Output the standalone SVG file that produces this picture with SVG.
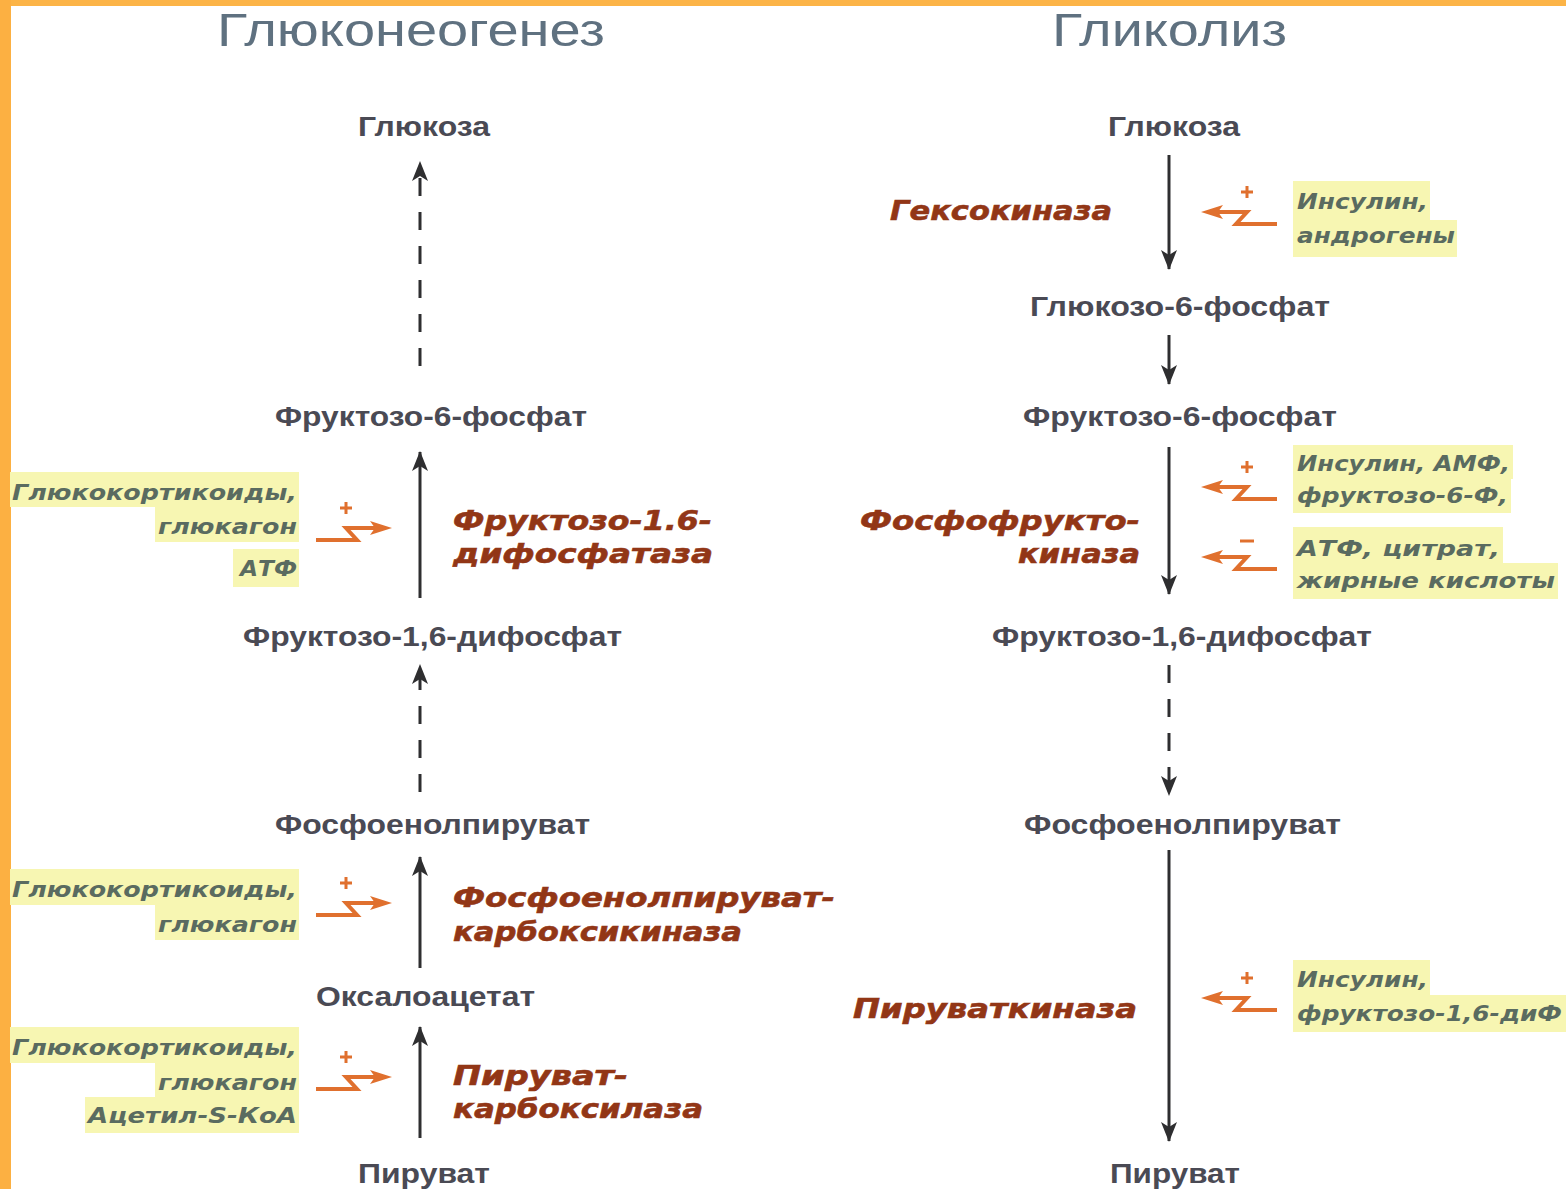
<svg xmlns="http://www.w3.org/2000/svg" width="1566" height="1189" viewBox="0 0 1566 1189">
<style>
.title{font-family:"Liberation Sans",Arial,sans-serif;font-size:46px;fill:#5f7180;}
.node{font-family:"Liberation Sans",Arial,sans-serif;font-weight:bold;font-size:28px;fill:#4a4a54;}
.enz{font-family:"DejaVu Sans",sans-serif;font-weight:bold;font-style:italic;font-size:27px;fill:#923616;stroke:#923616;stroke-width:0.6;}
.reg{font-family:"DejaVu Sans",sans-serif;font-weight:bold;font-style:italic;font-size:22px;fill:#5a6b60;}
.hl{fill:#f7f6b2;}
.main{stroke:#2e2e30;stroke-width:3;fill:none;}
.dash{stroke-dasharray:18 16;}
.rs{stroke:#e0702e;stroke-width:4;fill:none;stroke-linejoin:miter;}
.rp{stroke:#e0702e;stroke-width:3;}
</style>
<defs>
<marker id="ah" viewBox="0 0 20 16" refX="19" refY="8" markerWidth="20" markerHeight="16" markerUnits="userSpaceOnUse" orient="auto">
<path d="M0,0 L20,8 L0,16 L5,8 z" fill="#2e2e30"/>
</marker>
<g id="regPlus">
<path class="rs" d="M-74,12 H-33 L-44,0 H-14"/>
<path d="M-20,-7 L2,0 L-20,7 L-15,0 z" fill="#e0702e"/>
<path class="rp" d="M-50,-20 H-38 M-44,-26 V-14"/>
</g>
<g id="regMinus">
<path class="rs" d="M-74,12 H-33 L-44,0 H-14"/>
<path d="M-20,-7 L2,0 L-20,7 L-15,0 z" fill="#e0702e"/>
<path class="rp" d="M-51,-16 H-37"/>
</g>
</defs>
<rect x="0" y="0" width="1566" height="1189" fill="#ffffff"/>
<rect x="0" y="0" width="1566" height="6" fill="#fcb447"/>
<rect x="0" y="0" width="11" height="1189" fill="#fcb042"/>

<g id="titles">
<text class="title" x="217" y="46" textLength="388" lengthAdjust="spacingAndGlyphs">Глюконеогенез</text>
<text class="title" x="1052" y="46" textLength="235" lengthAdjust="spacingAndGlyphs">Гликолиз</text>
</g>

<g id="connectors">
<line class="main dash" x1="420" y1="366" x2="420" y2="162" marker-end="url(#ah)"/>
<line class="main" x1="420" y1="598" x2="420" y2="452" marker-end="url(#ah)"/>
<line class="main dash" x1="420" y1="792" x2="420" y2="665" marker-end="url(#ah)"/>
<line class="main" x1="420" y1="968" x2="420" y2="857" marker-end="url(#ah)"/>
<line class="main" x1="420" y1="1138" x2="420" y2="1027" marker-end="url(#ah)"/>
<line class="main" x1="1169" y1="155" x2="1169" y2="269" marker-end="url(#ah)"/>
<line class="main" x1="1169" y1="335" x2="1169" y2="384" marker-end="url(#ah)"/>
<line class="main" x1="1169" y1="447" x2="1169" y2="594" marker-end="url(#ah)"/>
<line class="main dash" x1="1169" y1="665" x2="1169" y2="795" marker-end="url(#ah)"/>
<line class="main" x1="1169" y1="850" x2="1169" y2="1141" marker-end="url(#ah)"/>
</g>

<g id="node-gng-glucose"><text class="node" x="358" y="136" textLength="132" lengthAdjust="spacingAndGlyphs">Глюкоза</text></g>
<g id="node-gng-f6p"><text class="node" x="275" y="426" textLength="312" lengthAdjust="spacingAndGlyphs">Фруктозо-6-фосфат</text></g>
<g id="node-gng-f16bp"><text class="node" x="243" y="646" textLength="379" lengthAdjust="spacingAndGlyphs">Фруктозо-1,6-дифосфат</text></g>
<g id="node-gng-pep"><text class="node" x="275" y="834" textLength="315" lengthAdjust="spacingAndGlyphs">Фосфоенолпируват</text></g>
<g id="node-gng-oaa"><text class="node" x="316" y="1006" textLength="219" lengthAdjust="spacingAndGlyphs">Оксалоацетат</text></g>
<g id="node-gng-pyr"><text class="node" x="358" y="1183" textLength="132" lengthAdjust="spacingAndGlyphs">Пируват</text></g>

<g id="node-gly-glucose"><text class="node" x="1108" y="136" textLength="132" lengthAdjust="spacingAndGlyphs">Глюкоза</text></g>
<g id="node-gly-g6p"><text class="node" x="1030" y="316" textLength="300" lengthAdjust="spacingAndGlyphs">Глюкозо-6-фосфат</text></g>
<g id="node-gly-f6p"><text class="node" x="1023" y="426" textLength="314" lengthAdjust="spacingAndGlyphs">Фруктозо-6-фосфат</text></g>
<g id="node-gly-f16bp"><text class="node" x="992" y="646" textLength="380" lengthAdjust="spacingAndGlyphs">Фруктозо-1,6-дифосфат</text></g>
<g id="node-gly-pep"><text class="node" x="1024" y="834" textLength="317" lengthAdjust="spacingAndGlyphs">Фосфоенолпируват</text></g>
<g id="node-gly-pyr"><text class="node" x="1110" y="1183" textLength="130" lengthAdjust="spacingAndGlyphs">Пируват</text></g>

<g id="enz-fbpase">
<text class="enz" x="453" y="530" textLength="259" lengthAdjust="spacingAndGlyphs">Фруктозо-1.6-</text>
<text class="enz" x="453" y="563" textLength="260" lengthAdjust="spacingAndGlyphs">дифосфатаза</text>
</g>
<g id="enz-pepck">
<text class="enz" x="453" y="907" textLength="382" lengthAdjust="spacingAndGlyphs">Фосфоенолпируват-</text>
<text class="enz" x="453" y="941" textLength="289" lengthAdjust="spacingAndGlyphs">карбоксикиназа</text>
</g>
<g id="enz-pc">
<text class="enz" x="453" y="1085" textLength="175" lengthAdjust="spacingAndGlyphs">Пируват-</text>
<text class="enz" x="453" y="1118" textLength="250" lengthAdjust="spacingAndGlyphs">карбоксилаза</text>
</g>
<g id="enz-hk">
<text class="enz" x="890" y="220" textLength="222" lengthAdjust="spacingAndGlyphs">Гексокиназа</text>
</g>
<g id="enz-pfk">
<text class="enz" x="860" y="530" textLength="280" lengthAdjust="spacingAndGlyphs">Фосфофрукто-</text>
<text class="enz" x="1018" y="563" textLength="122" lengthAdjust="spacingAndGlyphs">киназа</text>
</g>
<g id="enz-pk">
<text class="enz" x="853" y="1018" textLength="284" lengthAdjust="spacingAndGlyphs">Пируваткиназа</text>
</g>

<g id="reg-fbpase">
<rect class="hl" x="10" y="472" width="289" height="35"/>
<rect class="hl" x="155" y="507" width="144" height="35"/>
<rect class="hl" x="233" y="549" width="66" height="38"/>
<text class="reg" x="12" y="500" textLength="285" lengthAdjust="spacingAndGlyphs">Глюкокортикоиды,</text>
<text class="reg" x="158" y="534" textLength="139" lengthAdjust="spacingAndGlyphs">глюкагон</text>
<text class="reg" x="240" y="576" textLength="57" lengthAdjust="spacingAndGlyphs">АТФ</text>
<use href="#regPlus" x="390" y="528"/>
</g>
<g id="reg-pepck">
<rect class="hl" x="10" y="869" width="289" height="36"/>
<rect class="hl" x="155" y="905" width="144" height="35"/>
<text class="reg" x="12" y="897" textLength="285" lengthAdjust="spacingAndGlyphs">Глюкокортикоиды,</text>
<text class="reg" x="158" y="932" textLength="139" lengthAdjust="spacingAndGlyphs">глюкагон</text>
<use href="#regPlus" x="390" y="903"/>
</g>
<g id="reg-pc">
<rect class="hl" x="10" y="1027" width="289" height="36"/>
<rect class="hl" x="155" y="1063" width="144" height="34"/>
<rect class="hl" x="85" y="1097" width="214" height="36"/>
<text class="reg" x="12" y="1055" textLength="285" lengthAdjust="spacingAndGlyphs">Глюкокортикоиды,</text>
<text class="reg" x="158" y="1090" textLength="139" lengthAdjust="spacingAndGlyphs">глюкагон</text>
<text class="reg" x="88" y="1123" textLength="209" lengthAdjust="spacingAndGlyphs">Ацетил-S-КоА</text>
<use href="#regPlus" x="390" y="1077"/>
</g>

<g id="reg-hk">
<rect class="hl" x="1293" y="181" width="137" height="39"/>
<rect class="hl" x="1293" y="220" width="164" height="37"/>
<text class="reg" x="1297" y="209" textLength="131" lengthAdjust="spacingAndGlyphs">Инсулин,</text>
<text class="reg" x="1297" y="243" textLength="158" lengthAdjust="spacingAndGlyphs">андрогены</text>
<use href="#regPlus" transform="translate(1203,212) scale(-1,1)"/>
</g>
<g id="reg-pfk-act">
<rect class="hl" x="1293" y="445" width="220" height="34"/>
<rect class="hl" x="1293" y="479" width="218" height="34"/>
<text class="reg" x="1297" y="471" textLength="213" lengthAdjust="spacingAndGlyphs">Инсулин, АМФ,</text>
<text class="reg" x="1297" y="503" textLength="211" lengthAdjust="spacingAndGlyphs">фруктозо-6-Ф,</text>
<use href="#regPlus" transform="translate(1203,487) scale(-1,1)"/>
</g>
<g id="reg-pfk-inh">
<rect class="hl" x="1293" y="527" width="210" height="36"/>
<rect class="hl" x="1293" y="563" width="265" height="36"/>
<text class="reg" x="1297" y="556" textLength="203" lengthAdjust="spacingAndGlyphs">АТФ, цитрат,</text>
<text class="reg" x="1297" y="588" textLength="258" lengthAdjust="spacingAndGlyphs">жирные кислоты</text>
<use href="#regMinus" transform="translate(1203,557) scale(-1,1)"/>
</g>
<g id="reg-pk">
<rect class="hl" x="1293" y="960" width="137" height="35"/>
<rect class="hl" x="1293" y="995" width="273" height="37"/>
<text class="reg" x="1297" y="987" textLength="131" lengthAdjust="spacingAndGlyphs">Инсулин,</text>
<text class="reg" x="1297" y="1021" textLength="265" lengthAdjust="spacingAndGlyphs">фруктозо-1,6-диФ</text>
<use href="#regPlus" transform="translate(1203,998) scale(-1,1)"/>
</g>
</svg>
